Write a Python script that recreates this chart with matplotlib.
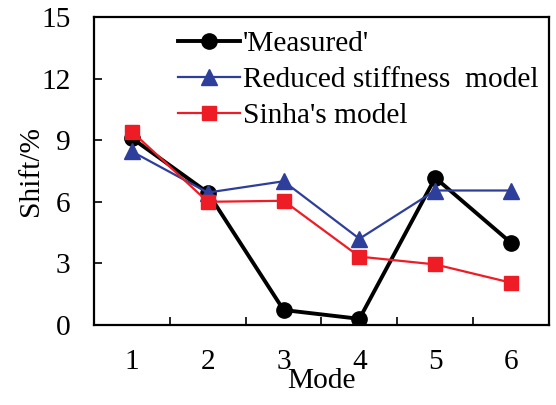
import matplotlib
matplotlib.use("Agg")
import matplotlib.pyplot as plt

plt.rcParams['font.family'] = ['Liberation Serif', 'DejaVu Serif']

modes = [1, 2, 3, 4, 5, 6]
measured = [9.1, 6.45, 0.73, 0.3, 7.17, 4.0]
reduced = [8.45, 6.45, 7.0, 4.2, 6.55, 6.55]
sinha = [9.42, 6.0, 6.05, 3.33, 2.95, 2.06]
yticks = [0, 3, 6, 9, 12, 15]

fs = 21.2

fig = plt.figure(figsize=(5.56, 4.05), dpi=100)
ax = fig.add_axes([94 / 556, 1 - 325 / 405, 455 / 556, 308 / 405])

ax.plot(modes, measured, color='black', lw=2.8, marker='o', ms=11,
        label="'Measured'", zorder=3)
ax.plot(modes, reduced, color='#2e3f9b', lw=1.6, marker='^', ms=11,
        label='Reduced stiffness  model', zorder=4)
ax.plot(modes, sinha, color='#ee1c25', lw=1.6, marker='s', ms=9.5,
        label="Sinha's model", zorder=5)

ax.set_xlim(0.5, 6.5)
ax.set_ylim(0, 15)
ax.set_yticks(yticks)
ax.set_xticks([m + 0.5 for m in modes[:-1]])
ax.set_xticklabels([])
ax.set_xticks(modes, minor=True)
ax.set_xticklabels([str(m) for m in modes], minor=True)
ax.tick_params(axis='x', which='major', direction='in', length=6, width=1.2)
ax.tick_params(axis='x', which='minor', length=0, pad=17, labelsize=fs)
ax.tick_params(axis='y', direction='in', length=6, width=1.2, pad=17,
               labelsize=fs)
for s in ax.spines.values():
    s.set_linewidth(1.6)

ax.set_ylabel('Shift/%', fontsize=fs, labelpad=-2)
ax.set_xlabel('Mode', fontsize=fs, labelpad=-5)

ax.legend(loc='upper left', bbox_to_anchor=(0.155, 1.0), frameon=False,
          fontsize=fs, handlelength=2.1, handletextpad=0.1,
          labelspacing=0.32, borderaxespad=0.05)

fig.savefig('out.png', dpi=100)
